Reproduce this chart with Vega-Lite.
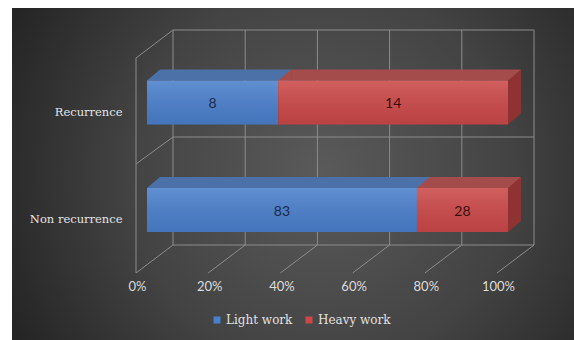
{
  "$schema": "https://vega.github.io/schema/vega-lite/v6.json",
  "width": 562,
  "height": 332,
  "autosize": {"type": "none"},
  "padding": {"left": 12, "top": 8, "right": 0, "bottom": 0},
  "background": "white",
  "config": {
    "view": {"stroke": null},
    "axisX": {"domain": false, "ticks": false, "grid": false, "labelFont": "Lato", "labelFontSize": 13, "labelColor": "#dcdcdc", "labelPadding": 0, "offset": -60, "labelOffset": -10, "labelOverlap": false, "labelFlush": false, "labelBound": false},
    "axisY": {"domain": false, "ticks": false, "grid": false, "labelFont": "DejaVu Serif", "labelFontSize": 11.5, "labelColor": "#e4e4e4", "labelPadding": 0, "offset": -110, "labelOffset": 10}
  },
  "datasets": {
    "bars": [
      {"cat": "Recurrence", "series": "Light work", "value": 8},
      {"cat": "Recurrence", "series": "Heavy work", "value": 14},
      {"cat": "Non recurrence", "series": "Light work", "value": 83},
      {"cat": "Non recurrence", "series": "Heavy work", "value": 28}
    ],
    "ticks": [{"t": 0}, {"t": 0.2}, {"t": 0.4}, {"t": 0.6}, {"t": 0.8}, {"t": 1}],
    "one": [{}]
  },
  "layer": [
    {
      "data": {"name": "one"},
      "mark": {"type": "rect", "fill": {"gradient": "radial", "x1": 0.55, "y1": 0.5, "r1": 0, "x2": 0.55, "y2": 0.5, "r2": 0.62, "stops": [{"offset": 0, "color": "#5a5a5a"}, {"offset": 0.55, "color": "#434343"}, {"offset": 1, "color": "#242424"}]}},
      "encoding": {"x": {"value": 0}, "x2": {"value": "width"}, "y": {"value": 0}, "y2": {"value": "height"}}
    },
    {
      "data": {"name": "ticks"},
      "mark": {"type": "rule", "color": "#8c8c8c", "strokeWidth": 1, "xOffset": 26},
      "encoding": {
        "x": {"field": "t", "type": "quantitative", "title": null, "scale": {"domain": [0, 1], "range": [135, 496], "nice": false, "zero": false}, "axis": {"format": "%", "values": [0, 0.2, 0.4, 0.6, 0.8, 1], "zindex": 1}},
        "y": {"value": 22}, "y2": {"value": 237}
      }
    },
    {
      "data": {"name": "ticks"},
      "mark": {"type": "rule", "color": "#8c8c8c", "strokeWidth": 1, "xOffset": 26, "x2Offset": -11},
      "encoding": {
        "x": {"field": "t", "type": "quantitative", "title": null, "scale": {"domain": [0, 1], "range": [135, 496], "nice": false, "zero": false}},
        "x2": {"field": "t"},
        "y": {"value": 237}, "y2": {"value": 265}
      }
    },
    {"data": {"name": "one"}, "mark": {"type": "rule", "color": "#8c8c8c", "strokeWidth": 1}, "encoding": {"x": {"value": 161}, "x2": {"value": 522}, "y": {"value": 22}, "y2": {"value": 22}}},
    {"data": {"name": "one"}, "mark": {"type": "rule", "color": "#8c8c8c", "strokeWidth": 1}, "encoding": {"x": {"value": 161}, "x2": {"value": 522}, "y": {"value": 129}, "y2": {"value": 129}}},
    {"data": {"name": "one"}, "mark": {"type": "rule", "color": "#8c8c8c", "strokeWidth": 1}, "encoding": {"x": {"value": 161}, "x2": {"value": 522}, "y": {"value": 237}, "y2": {"value": 237}}},
    {"data": {"name": "one"}, "mark": {"type": "rule", "color": "#8c8c8c", "strokeWidth": 1}, "encoding": {"x": {"value": 124}, "x2": {"value": 124}, "y": {"value": 50}, "y2": {"value": 265}}},
    {"data": {"name": "one"}, "mark": {"type": "rule", "color": "#8c8c8c", "strokeWidth": 1}, "encoding": {"x": {"value": 124}, "x2": {"value": 161}, "y": {"value": 50}, "y2": {"value": 22}}},
    {"data": {"name": "one"}, "mark": {"type": "rule", "color": "#8c8c8c", "strokeWidth": 1}, "encoding": {"x": {"value": 124}, "x2": {"value": 161}, "y": {"value": 156}, "y2": {"value": 129}}},
    {
      "data": {"name": "bars"},
      "transform": [{"stack": "value", "groupby": ["cat"], "offset": "normalize", "sort": [{"field": "series", "order": "descending"}], "as": ["x0", "x1"]}],
      "layer": [
        {
          "mark": {"type": "bar", "size": 11, "xOffset": 13, "x2Offset": 13, "yOffset": -27.5},
          "encoding": {
            "x": {"field": "x0", "type": "quantitative", "title": null, "scale": {"domain": [0, 1], "range": [135, 496], "nice": false, "zero": false}},
            "x2": {"field": "x1"},
            "y": {"field": "cat", "type": "nominal", "title": null, "scale": {"domain": ["Recurrence", "Non recurrence"], "range": [40.75, 255.75], "paddingInner": 0, "paddingOuter": 0}, "axis": {"zindex": 1}},
            "color": {"condition": {"test": "datum.series === 'Light work'", "value": "#4c70a8"}, "value": "#a44c4c"}
          }
        },
        {
          "mark": {"type": "point", "shape": "M -1 0.846 L 1 0.846 L 1 -0.846 Z", "size": 169, "filled": true, "opacity": 1, "strokeWidth": 0, "xOffset": 6.5, "yOffset": -27.5},
          "encoding": {
            "x": {"field": "x0", "type": "quantitative", "title": null, "scale": {"domain": [0, 1], "range": [135, 496], "nice": false, "zero": false}},
            "y": {"field": "cat", "type": "nominal", "title": null, "scale": {"domain": ["Recurrence", "Non recurrence"], "range": [40.75, 255.75], "paddingInner": 0, "paddingOuter": 0}},
            "color": {"condition": {"test": "datum.series === 'Light work'", "value": "#4c70a8"}, "value": "#a44c4c"}
          }
        },
        {
          "transform": [{"filter": "datum.series === 'Heavy work'"}],
          "mark": {"type": "point", "shape": "M -0.2364 -0.6 L 0.2364 -1 L 0.2364 0.6 L -0.2364 1 Z", "size": 3025, "filled": true, "opacity": 1, "strokeWidth": 0, "xOffset": 6.5, "yOffset": -5.5, "color": "#8e3232"},
          "encoding": {
            "x": {"field": "x1", "type": "quantitative", "title": null, "scale": {"domain": [0, 1], "range": [135, 496], "nice": false, "zero": false}},
            "y": {"field": "cat", "type": "nominal", "title": null, "scale": {"domain": ["Recurrence", "Non recurrence"], "range": [40.75, 255.75], "paddingInner": 0, "paddingOuter": 0}}
          }
        },
        {
          "mark": {"type": "bar", "size": 44},
          "encoding": {
            "x": {"field": "x0", "type": "quantitative", "title": null, "scale": {"domain": [0, 1], "range": [135, 496], "nice": false, "zero": false}},
            "x2": {"field": "x1"},
            "y": {"field": "cat", "type": "nominal", "title": null, "scale": {"domain": ["Recurrence", "Non recurrence"], "range": [40.75, 255.75], "paddingInner": 0, "paddingOuter": 0}},
            "color": {"field": "series", "type": "nominal", "scale": {"domain": ["Light work", "Heavy work"], "range": ["#4a7fcc", "#cc4848"]}, "legend": {"title": null, "orient": "none", "legendX": 199, "legendY": 306, "direction": "horizontal", "symbolType": "square", "symbolSize": 49, "symbolStrokeWidth": 0, "labelFont": "DejaVu Serif", "labelFontSize": 12, "labelColor": "#e0e0e0", "columnPadding": 10, "padding": 0, "labelOffset": 3}}
          }
        },
        {
          "mark": {"type": "bar", "size": 44, "fill": {"gradient": "linear", "x1": 0, "y1": 0, "x2": 0, "y2": 1, "stops": [{"offset": 0, "color": "rgba(255,255,255,0.13)"}, {"offset": 1, "color": "rgba(0,0,0,0.08)"}]}},
          "encoding": {
            "x": {"field": "x0", "type": "quantitative", "title": null, "scale": {"domain": [0, 1], "range": [135, 496], "nice": false, "zero": false}},
            "x2": {"field": "x1"},
            "y": {"field": "cat", "type": "nominal", "title": null, "scale": {"domain": ["Recurrence", "Non recurrence"], "range": [40.75, 255.75], "paddingInner": 0, "paddingOuter": 0}}
          }
        }
      ]
    },
    {
      "data": {"name": "bars"},
      "mark": {"type": "text", "font": "Lato", "fontSize": 14, "dy": 1.5},
      "encoding": {
        "x": {"field": "value", "type": "quantitative", "stack": "normalize", "bandPosition": 0.5, "title": null, "scale": {"domain": [0, 1], "range": [135, 496], "nice": false, "zero": false}},
        "y": {"field": "cat", "type": "nominal", "title": null, "scale": {"domain": ["Recurrence", "Non recurrence"], "range": [40.75, 255.75], "paddingInner": 0, "paddingOuter": 0}},
        "detail": {"field": "series"},
        "order": {"field": "series", "sort": "descending"},
        "text": {"field": "value", "type": "quantitative"},
        "color": {"condition": {"test": "datum.series === 'Light work'", "value": "#1c2a48"}, "value": "#3a0f0f"}
      }
    }
  ]
}
